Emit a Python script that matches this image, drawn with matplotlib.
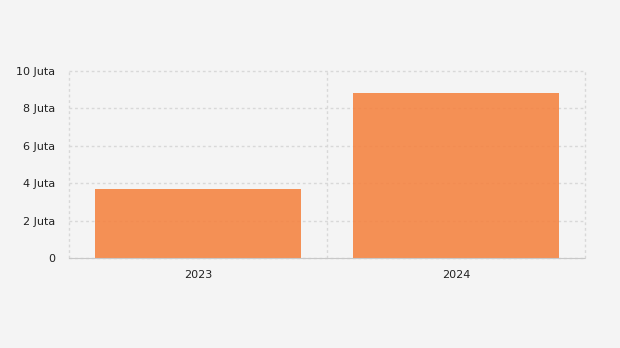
import numpy as np
import matplotlib.pyplot as plt
from matplotlib.ticker import FixedLocator

# data
years = ["2023", "2024"]
values = [3.69e6, 8.82e6]
yticks = [0, 2e6, 4e6, 6e6, 8e6, 10e6]
ylabels = ["0", "2 Juta", "4 Juta", "6 Juta", "8 Juta", "10 Juta"]

bg = "#f4f4f4"
fig = plt.figure(figsize=(6.2, 3.48), dpi=100, facecolor=bg)
ax = fig.add_axes([69/620, 1 - 258/348, (585-69)/620, (258-71)/348])
ax.set_facecolor(bg)

x = np.arange(len(years))
ax.bar(x, values, width=0.8, color="#f5823f", alpha=0.88, zorder=2)

ax.set_xlim(-0.5, len(years) - 0.5)
ax.set_ylim(0, 10e6)
ax.set_yticks(yticks)
ax.set_yticklabels(ylabels)
ax.set_xticks(x)
ax.set_xticklabels(years)
ax.xaxis.set_minor_locator(FixedLocator([-0.5, 0.5, 1.5]))

ax.grid(axis="y", which="major", color="#d8d8d8", linestyle=(0, (2, 2)), lw=1, zorder=1)
ax.grid(axis="x", which="minor", color="#d8d8d8", linestyle=(0, (2, 2)), lw=1, zorder=1)
ax.grid(axis="x", which="major", visible=False)

# keep the edge grid lines whole
for tick in ax.xaxis.get_minor_ticks() + ax.yaxis.get_major_ticks():
    tick.gridline.set_clip_on(False)

for s in ["top", "right", "left"]:
    ax.spines[s].set_visible(False)
ax.spines["bottom"].set_color("#c8c8c8")
ax.spines["bottom"].set_linestyle((0, (2, 1)))
ax.spines["bottom"].set_zorder(3)
ax.tick_params(which="both", length=0, labelsize=8, colors="#222222")
ax.tick_params(axis="y", pad=10)
ax.tick_params(axis="x", pad=9)

fig.savefig("out.png", dpi=100, facecolor=bg)
